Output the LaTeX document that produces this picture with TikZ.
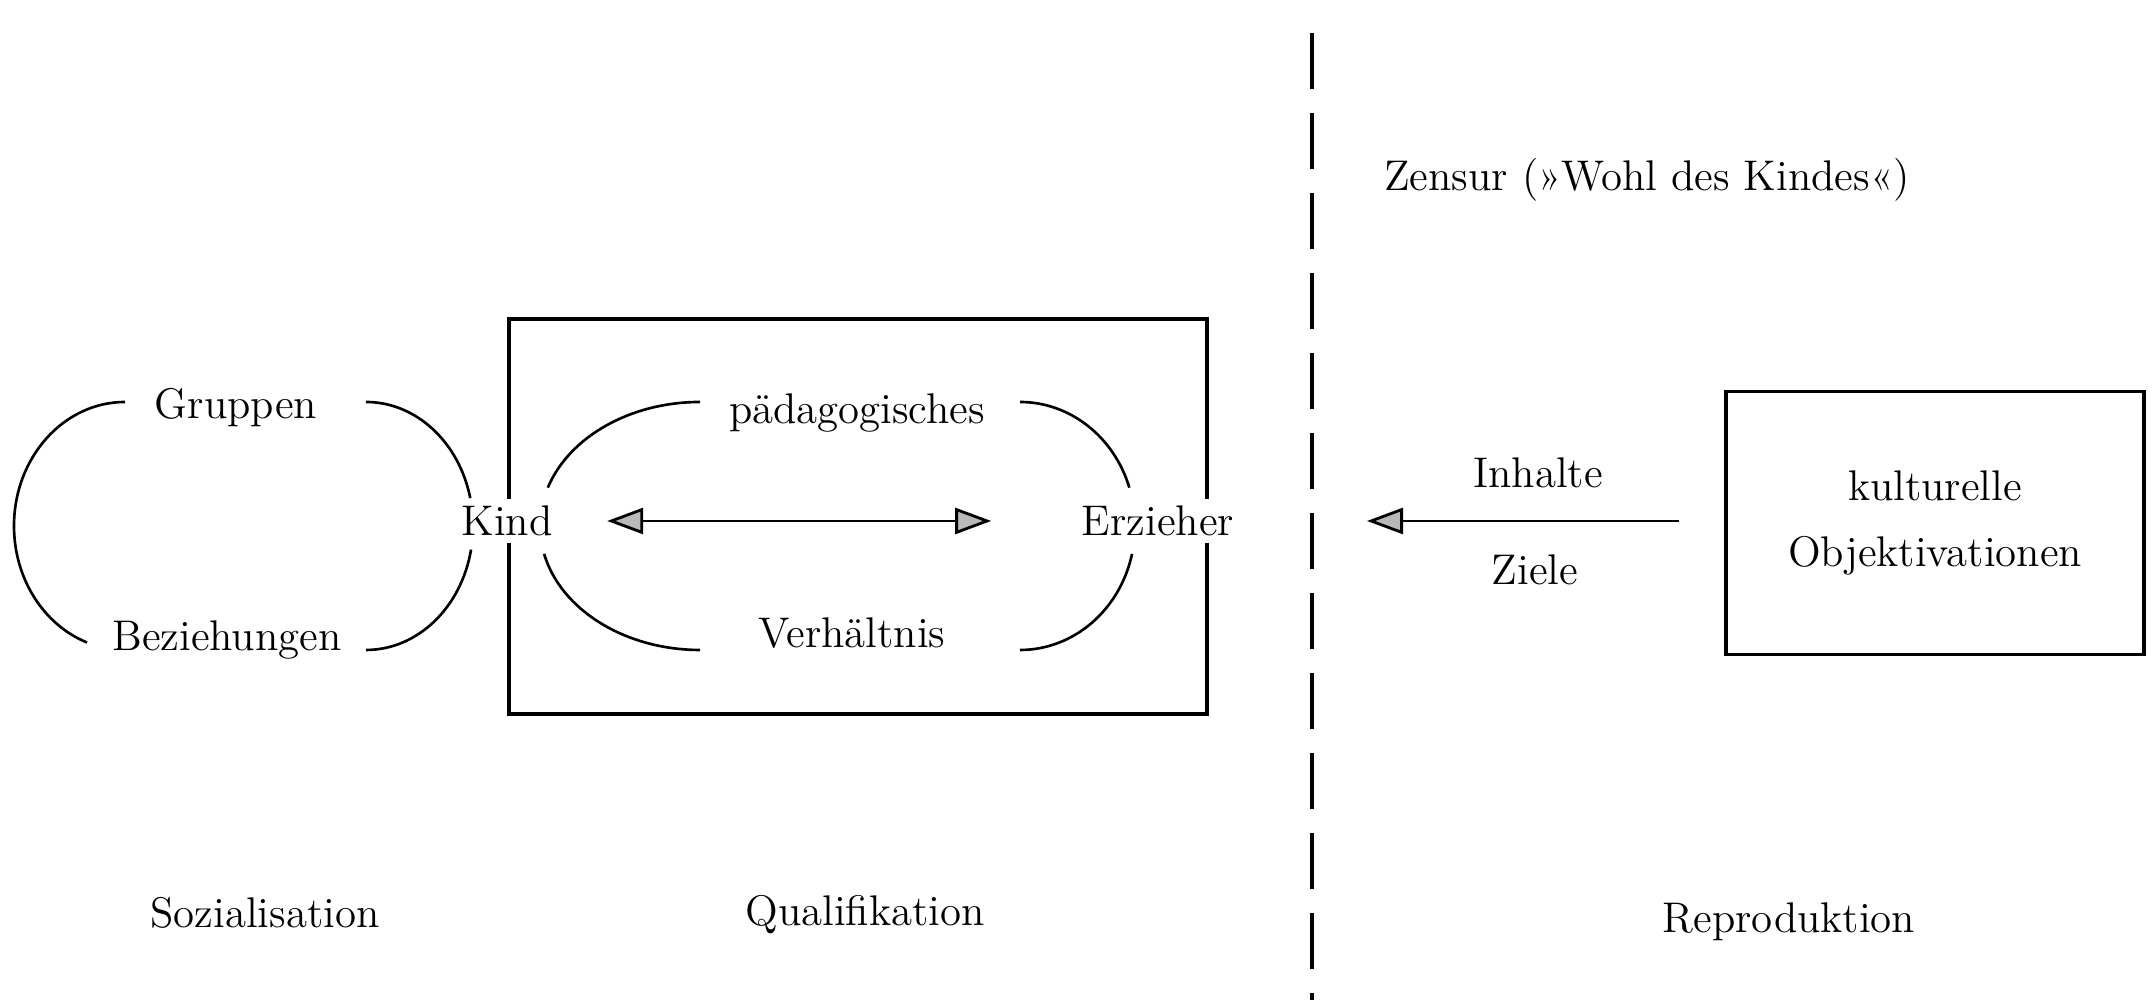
\documentclass[tikz,border=0pt]{standalone}
\usepackage{fontspec}
\usetikzlibrary{arrows.meta}

\tikzset{
  txt/.style={font=\fontsize{12.2}{19}\selectfont, inner sep=2pt},
  pfeil/.style={line width=.8pt, >={Triangle[length=3.6mm,width=2.6mm,fill=gray!55]}},
  bogen/.style={line width=.75pt},
}

\begin{document}
\begin{tikzpicture}
				\useasboundingbox (0,0) rectangle (21.56,10);
				
				% Trennlinie
				\draw[line width=.9pt, dash pattern=on 0.56cm off 0.24cm] (13.12,9.67) -- (13.12,0);
				\node[txt] (Z) at (16.47,8.20) {Zensur (»Wohl des Kindes«)};
				
				% Sozialisation
				\node[txt] (G) at (2.36,5.92) {Gruppen};
				\node[txt] (B) at (2.27,3.60) {Beziehungen};
				\draw[bogen] (1.25,5.98) arc[start angle=90, end angle=250, x radius=1.11, y radius=1.24];
				\draw[bogen] (3.66,5.98) arc[start angle=90, end angle=13, x radius=1.07, y radius=1.24];
				\draw[bogen] (3.66,3.50) arc[start angle=270, end angle=349, x radius=1.07, y radius=1.24];
				
				% Qualifikation
				\draw[line width=.9pt] (5.09,6.81) rectangle (12.07,2.86);
				\node[txt, fill=white] (K) at (5.07,4.79) {Kind};
				\node[txt, fill=white] (E) at (11.58,4.79) {Erzieher};
				\node[txt] (P) at (8.57,5.87) {pädagogisches};
				\node[txt] (V) at (8.52,3.67) {Verhältnis};
				\draw[bogen] (7.00,5.98) arc[start angle=90, end angle=162, x radius=1.60, y radius=1.24];
				\draw[bogen] (7.00,3.50) arc[start angle=270, end angle=193, x radius=1.60, y radius=1.24];
				\draw[bogen] (10.20,5.98) arc[start angle=90, end angle=18, x radius=1.15, y radius=1.24];
				\draw[bogen] (10.20,3.50) arc[start angle=270, end angle=347, x radius=1.15, y radius=1.24];
				\draw[pfeil, <->, shorten <=0.47cm, shorten >=0.83cm] (K) -- (E);
				
				% Reproduktion
				\node[txt, draw, line width=.9pt, minimum width=4.18cm, minimum height=2.63cm, align=center] (O) at (19.35,4.77) {kulturelle\\Objektivationen};
				\node[txt] (I) at (15.38,5.27) {Inhalte};
				\node[txt] (L) at (15.35,4.30) {Ziele};
				\coordinate (c) at (13.67,4.79);
				\draw[pfeil, <-, shorten >=0.45cm] (c) -- (O.west |- c);
				
				\node[txt] (S) at (2.65,0.87) {Sozialisation};
				\node[txt] (Q) at (8.65,0.85) {Qualifikation};
				\node[txt] (R) at (17.89,0.78) {Reproduktion};
			\end{tikzpicture}
\end{document}
